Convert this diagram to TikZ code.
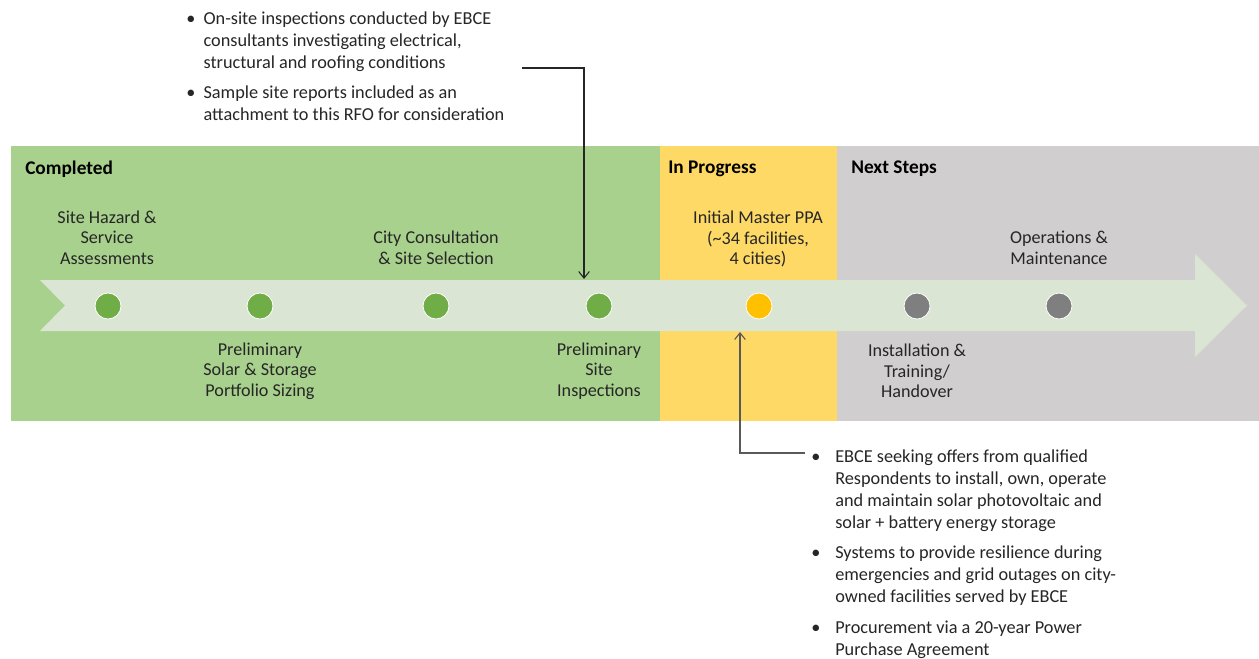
\documentclass[tikz,border=0pt]{standalone}
\usepackage{fontspec}
\setmainfont{Carlito}
\usetikzlibrary{arrows.meta}
\definecolor{greenbg}{HTML}{A9D18E}
\definecolor{yellowbg}{HTML}{FFD966}
\definecolor{graybg}{HTML}{D0CECE}
\definecolor{arrowc}{HTML}{DAE5D3}
\definecolor{dgreen}{HTML}{70AD47}
\definecolor{dyellow}{HTML}{FFC000}
\definecolor{dgray}{HTML}{7F7F7F}
\definecolor{txt}{HTML}{262626}
\definecolor{linea}{HTML}{262626}
\definecolor{lineb}{HTML}{595959}
\begin{document}
\begin{tikzpicture}[x=0.75pt,y=-0.75pt,
  lbl/.style={font=\fontsize{13.6}{15.4}\selectfont, align=center, inner sep=0pt, text=txt},
  hdr/.style={font=\fontsize{14.5}{16}\selectfont\bfseries, anchor=west, inner sep=0pt, text=black},
  dot/.style={circle, minimum size=19.5pt, inner sep=0pt, draw=white, line width=0.6pt},
  bul/.style={font=\fontsize{13.7}{16.4}\selectfont, anchor=base west, inner sep=0pt, text=txt},
  conn/.style={line width=0.8pt, -{Straight Barb[length=5pt,width=8pt]}}
]
\useasboundingbox (0,0) rectangle (1259,658);
\fill[white] (0,0) rectangle (1259,658);
\fill[greenbg] (11,146) rectangle (660,421);
\fill[yellowbg] (660,146) rectangle (837,421);
\fill[graybg] (837,146) rectangle (1259,421);
\fill[arrowc] (40,280) -- (1195,280) -- (1195,254) -- (1247,305.5) -- (1195,357) -- (1195,331) -- (40,331) -- (65,305.5) -- cycle;

\node[hdr] (h1) at (25,169) {Completed};
\node[hdr] (h2) at (668,169) {In Progress};
\node[hdr] (h3) at (851,169) {Next Steps};

\node[lbl] (l1) at (107,237.5) {Site Hazard \&\\Service\\Assessments};
\node[lbl] (l2) at (436,248) {City Consultation\\\& Site Selection};
\node[lbl] (l3) at (758,239) {Initial Master PPA\\(\textasciitilde34 facilities,\\4 cities)};
\node[lbl] (l4) at (1059,248) {Operations \&\\Maintenance};
\node[lbl] (l5) at (260,371) {Preliminary\\Solar \& Storage\\Portfolio Sizing};
\node[lbl] (l6) at (599,371) {Preliminary\\Site\\Inspections};
\node[lbl] (l7) at (917,371) {Installation \&\\Training/\\Handover};

\node[dot, fill=dgreen] (d1) at (108,306) {};
\node[dot, fill=dgreen] (d2) at (260,306) {};
\node[dot, fill=dgreen] (d3) at (436,306) {};
\node[dot, fill=dgreen] (d4) at (599,306) {};
\node[dot, fill=dyellow] (d5) at (759,306) {};
\node[dot, fill=dgray] (d6) at (917,306) {};
\node[dot, fill=dgray] (d7) at (1059,306) {};

\node[bul] (tb) at (186,24.5) {\begin{tabular}[t]{@{}p{13pt}@{}l@{}}
\textbullet & On-site inspections conducted by EBCE\\
 & consultants investigating electrical,\\
 & structural and roofing conditions\\[6.4pt]
\textbullet & Sample site reports included as an\\
 & attachment to this RFO for consideration
\end{tabular}};

\node[bul] (bb) at (811,462.5) {\begin{tabular}[t]{@{}p{18pt}@{}l@{}}
\textbullet & EBCE seeking offers from qualified\\
 & Respondents to install, own, operate\\
 & and maintain solar photovoltaic and\\
 & solar + battery energy storage\\[6.6pt]
\textbullet & Systems to provide resilience during\\
 & emergencies and grid outages on city-\\
 & owned facilities served by EBCE\\[6.6pt]
\textbullet & Procurement via a 20-year Power\\
 & Purchase Agreement
\end{tabular}};

\coordinate (c1s) at (522,68);
\coordinate (c1e) at (584,279);
\draw[conn, draw=linea] (c1s) -| (c1e);
\coordinate (c2s) at (805,453);
\coordinate (c2e) at (740,332);
\draw[conn, draw=lineb] (c2s) -| (c2e);
\end{tikzpicture}
\end{document}
